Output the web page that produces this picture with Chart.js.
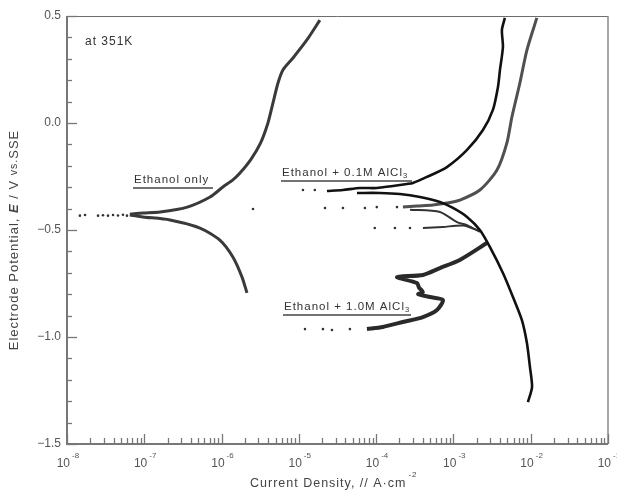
<!DOCTYPE html>
<html>
<head>
<meta charset="utf-8">
<script src="https://cdn.jsdelivr.net/npm/chart.js@4.4.1/dist/chart.umd.min.js"></script>
<style>
  html, body { margin: 0; padding: 0; background: #fff; }
</style>
</head>
<body>
<canvas id="tafel" width="617" height="490"></canvas>
<script>
// Current density (A cm^-2) and electrode potential (V vs SSE), one pair of arrays per branch

// Ethanol only
const ethAnodicI = [6.5e-8, 9.6e-8, 1.6e-7, 3.6e-7, 7.1e-7, 1.04e-6, 1.4e-6, 1.73e-6, 2.4e-6, 3.2e-6, 3.98e-6, 4.62e-6, 5.37e-6, 6.22e-6, 8.4e-6, 1.27e-5, 1.87e-5];
const ethAnodicE = [-0.426, -0.421, -0.416, -0.393, -0.346, -0.299, -0.266, -0.234, -0.170, -0.093, 0.0, 0.093, 0.187, 0.248, 0.304, 0.388, 0.481];
const ethCathodicI = [6.5e-8, 9.6e-8, 2.15e-7, 5.26e-7, 9.5e-7, 1.4e-6, 1.84e-6, 2.13e-6];
const ethCathodicE = [-0.430, -0.439, -0.453, -0.491, -0.547, -0.626, -0.720, -0.794];
const ethDotsI = [1.47e-8, 1.71e-8, 2.52e-8, 2.92e-8, 3.39e-8, 3.94e-8, 4.57e-8, 5.3e-8, 5.97e-8, 7.15e-8, 8.05e-8, 2.55e-6];
const ethDotsE = [-0.433, -0.430, -0.433, -0.431, -0.433, -0.430, -0.432, -0.429, -0.433, -0.430, -0.432, -0.402];

// Ethanol + 0.1M AlCl3
const al01AnodicI = [2.31e-5, 3.72e-5, 6.17e-5, 1.02e-4, 1.65e-4, 2.5e-4, 2.99e-4, 4.54e-4, 8.24e-4, 1.5e-3, 2.41e-3, 3.24e-3, 3.77e-3, 4.0e-3, 4.37e-3, 4.24e-3, 4.63e-3];
const al01AnodicE = [-0.318, -0.313, -0.304, -0.304, -0.294, -0.285, -0.280, -0.252, -0.206, -0.126, -0.033, 0.061, 0.168, 0.248, 0.355, 0.435, 0.491];
const al01CathodicI = [5.65e-5, 1.12e-4, 2.03e-4, 3.69e-4, 6.68e-4, 9.86e-4, 1.5e-3, 2.2e-3, 2.96e-3, 4.37e-3, 5.89e-3, 7.69e-3, 8.93e-3, 9.77e-3, 1.04e-2, 9.2e-3];
const al01CathodicE = [-0.327, -0.327, -0.332, -0.346, -0.369, -0.397, -0.439, -0.500, -0.579, -0.701, -0.813, -0.921, -1.028, -1.140, -1.234, -1.304];
const al01DotsI = [1.13e-5, 1.61e-5];
const al01DotsE = [-0.313, -0.313];

// Ethanol + 1.0M AlCl3
const al10AnodicI = [2.22e-4, 3.37e-4, 5.43e-4, 8.24e-4, 1.21e-3, 2.2e-3, 3.66e-3, 4.92e-3, 5.71e-3, 7.24e-3, 8.93e-3, 1.2e-2];
const al10AnodicE = [-0.393, -0.388, -0.383, -0.374, -0.360, -0.313, -0.220, -0.093, 0.028, 0.187, 0.341, 0.491];
const al10MidI = [2.74e-4, 6.68e-4, 1.11e-3, 1.5e-3, 2.2e-3];
const al10MidE = [-0.405, -0.416, -0.463, -0.477, -0.509];
const al10LowI = [4.03e-4, 7.31e-4, 1.33e-3, 2.2e-3];
const al10LowE = [-0.491, -0.486, -0.479, -0.505];
const al10CathodicI = [2.71e-3, 1.21e-3, 6.68e-4, 4.03e-4, 1.86e-4, 3.37e-4, 3.6e-4, 4.03e-4, 3.5e-4, 4.97e-4, 7.31e-4, 6.12e-4, 4.03e-4, 2.22e-4, 1.22e-4, 7.6e-5];
const al10CathodicE = [-0.561, -0.640, -0.678, -0.710, -0.720, -0.748, -0.770, -0.790, -0.800, -0.813, -0.827, -0.874, -0.907, -0.930, -0.953, -0.963];
const al10DotsI = [2.18e-5, 3.72e-5, 7.16e-5, 1.02e-4, 1.86e-4, 9.6e-5, 1.75e-4, 2.74e-4, 4.58e-5, 2.68e-5, 2.05e-5, 1.2e-5];
const al10DotsE = [-0.397, -0.397, -0.397, -0.393, -0.393, -0.491, -0.491, -0.491, -0.963, -0.967, -0.963, -0.963];

// Axis ticks
const decadeExps = [-8, -7, -6, -5, -4, -3, -2, -1];
const potentialTicks = [0.5, 0.0, -0.5, -1.0, -1.5];
const potentialLabels = ['0.5', '0.0', '\u22120.5', '\u22121.0', '\u22121.5'];

const FONT = '"Liberation Sans", Arial, sans-serif';

function pts(xs, ys) {
  return xs.map((x, i) => ({ x: x, y: ys[i] }));
}

function curve(xs, ys, color, width) {
  return {
    data: pts(xs, ys),
    showLine: true,
    borderColor: color,
    borderWidth: width,
    pointRadius: 0,
    tension: 0.25,
    fill: false
  };
}

function dots(xs, ys) {
  return {
    data: pts(xs, ys),
    showLine: false,
    pointRadius: 1.3,
    pointBackgroundColor: '#333',
    pointBorderWidth: 0
  };
}

// Draws the frame, inward ticks, superscripted decade labels and the annotations
const axesPlugin = {
  id: 'axesPlugin',
  afterDraw(chart) {
    const ctx = chart.ctx;
    const a = chart.chartArea;
    const xs = chart.scales.x;
    const ys = chart.scales.y;
    ctx.save();

    // frame
    ctx.strokeStyle = '#6e6e6e';
    ctx.lineWidth = 1;
    ctx.beginPath();
    ctx.moveTo(a.left, a.top + 0.5);
    ctx.lineTo(a.right, a.top + 0.5);
    ctx.stroke();
    ctx.strokeStyle = '#8a8a8a';
    ctx.lineWidth = 1.5;
    ctx.beginPath();
    ctx.moveTo(a.right, a.top);
    ctx.lineTo(a.right, a.bottom);
    ctx.stroke();
    ctx.strokeStyle = '#777';
    ctx.lineWidth = 2;
    ctx.beginPath();
    ctx.moveTo(a.left, a.top);
    ctx.lineTo(a.left, a.bottom);
    ctx.lineTo(a.right, a.bottom);
    ctx.stroke();

    // potential ticks every 0.1 V
    ctx.lineWidth = 1.3;
    for (let k = -15; k <= 5; k++) {
      const py = Math.round(ys.getPixelForValue(k / 10)) + 0.5;
      const len = k % 5 === 0 ? 10 : 5;
      ctx.beginPath();
      ctx.moveTo(a.left, py);
      ctx.lineTo(a.left + len, py);
      ctx.stroke();
    }
    ctx.fillStyle = '#555';
    ctx.font = '12px ' + FONT;
    ctx.textAlign = 'right';
    ctx.textBaseline = 'middle';
    potentialTicks.forEach((v, i) => {
      ctx.fillText(potentialLabels[i], a.left - 6, ys.getPixelForValue(v));
    });

    // current density ticks, 1..9 per decade
    decadeExps.forEach(e => {
      for (let m = 1; m <= 9; m++) {
        if (e === -1 && m > 1) break;
        const px = Math.round(xs.getPixelForValue(m * Math.pow(10, e))) + 0.5;
        const len = m === 1 ? 10 : 6;
        ctx.beginPath();
        ctx.moveTo(px, a.bottom);
        ctx.lineTo(px, a.bottom - len);
        ctx.stroke();
      }
    });
    decadeExps.forEach(e => {
      const px = xs.getPixelForValue(Math.pow(10, e));
      ctx.font = '12px ' + FONT;
      ctx.textAlign = 'right';
      ctx.textBaseline = 'middle';
      ctx.fillText('10', px + 3, a.bottom + 20);
      ctx.font = '8px ' + FONT;
      ctx.textAlign = 'left';
      ctx.fillText('-' + Math.abs(e), px + 5, a.bottom + 12);
    });

    // axis titles
    ctx.fillStyle = '#444';
    ctx.textBaseline = 'middle';
    ctx.letterSpacing = '1px';
    ctx.font = '12.5px ' + FONT;
    const xt = 'Current Density, // A\u00b7cm';
    ctx.textAlign = 'left';
    const xtw = ctx.measureText(xt).width;
    const xtx = 250;
    ctx.fillText(xt, xtx, 484);
    ctx.font = '8px ' + FONT;
    ctx.fillText('-2', xtx + xtw + 2, 475);

    const parts = [
      ['Electrode Potential, ', '13px ' + FONT],
      ['E', 'italic bold 13px ' + FONT],
      [' / V ', '13px ' + FONT],
      ['vs.', '10.5px ' + FONT],
      ['SSE', '13px ' + FONT]
    ];
    let total = 0;
    parts.forEach(p => { ctx.font = p[1]; total += ctx.measureText(p[0]).width; });
    ctx.save();
    ctx.translate(14, 240);
    ctx.rotate(-Math.PI / 2);
    let cx = -total / 2;
    ctx.textAlign = 'left';
    parts.forEach(p => {
      ctx.font = p[1];
      ctx.fillText(p[0], cx, 0);
      cx += ctx.measureText(p[0]).width;
    });
    ctx.restore();

    // annotations
    ctx.fillStyle = '#333';
    ctx.font = '12px ' + FONT;
    ctx.textAlign = 'left';
    ctx.fillText('at 351K', 85, 42);

    function label(text, x, y, underlineTo, sub) {
      ctx.font = '11.5px ' + FONT;
      ctx.fillStyle = '#333';
      ctx.fillText(text, x, y);
      if (sub) {
        const w = ctx.measureText(text).width;
        ctx.font = '7.5px ' + FONT;
        ctx.fillText(sub, x + w, y + 3);
      }
      ctx.strokeStyle = '#444';
      ctx.lineWidth = 1.5;
      ctx.beginPath();
      ctx.moveTo(x - 1, y + 8);
      ctx.lineTo(underlineTo, y + 8);
      ctx.stroke();
    }
    label('Ethanol only', 134, 180, 213);
    label('Ethanol + 0.1M AlCl', 282, 173, 412, '3');
    label('Ethanol + 1.0M AlCl', 284, 307, 411, '3');

    ctx.restore();
  }
};

new Chart(document.getElementById('tafel'), {
  type: 'scatter',
  data: {
    datasets: [
      curve(ethAnodicI, ethAnodicE, '#3a3a3a', 3),
      curve(ethCathodicI, ethCathodicE, '#3a3a3a', 3),
      dots(ethDotsI, ethDotsE),
      curve(al01AnodicI, al01AnodicE, '#111', 2.6),
      curve(al01CathodicI, al01CathodicE, '#111', 2.6),
      dots(al01DotsI, al01DotsE),
      curve(al10AnodicI, al10AnodicE, '#505050', 3),
      curve(al10MidI, al10MidE, '#333', 2),
      curve(al10LowI, al10LowE, '#333', 2),
      curve(al10CathodicI, al10CathodicE, '#2a2a2a', 4),
      dots(al10DotsI, al10DotsE)
    ]
  },
  options: {
    responsive: false,
    animation: false,
    devicePixelRatio: 1,
    layout: { padding: { left: 67, top: 16, right: 9, bottom: 46 } },
    plugins: { legend: { display: false }, tooltip: { enabled: false } },
    scales: {
      x: { type: 'logarithmic', min: 1e-8, max: 1e-1, display: false },
      y: { type: 'linear', min: -1.5, max: 0.5, display: false }
    }
  },
  plugins: [axesPlugin]
});
</script>
</body>
</html>
